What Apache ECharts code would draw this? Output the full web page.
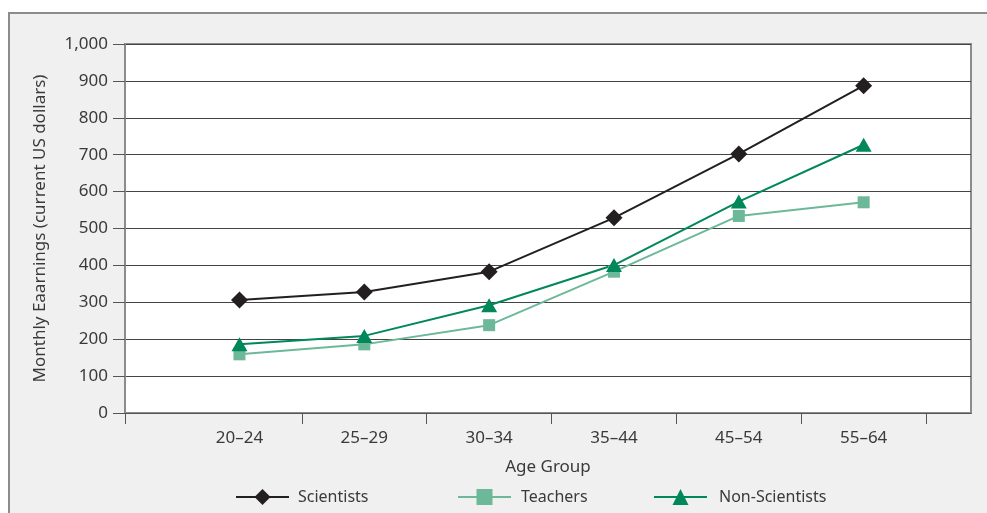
<!DOCTYPE html>
<html>
<head>
<meta charset="utf-8">
<script src="https://cdn.jsdelivr.net/npm/echarts@6/dist/echarts.min.js"></script>
<style>
  html, body { margin: 0; padding: 0; background: #ffffff; }
  #frame { position: absolute; left: 8px; top: 12px; width: 990px; height: 520px; background: #f0f0f0; border: 2px solid #8c8c8c; box-sizing: border-box; }
  #chart { position: absolute; left: 0; top: 0; width: 987px; height: 513px; }
</style>
</head>
<body>
<div id="frame"></div>
<div id="chart"></div>
<script>
const categories = ['20–24', '25–29', '30–34', '35–44', '45–54', '55–64'];
const scientists = [306, 328, 383, 529, 702, 887];
const teachers = [159, 186, 238, 383, 534, 571];
const nonScientists = [186, 209, 292, 401, 573, 727];
const yTicks = [0, 100, 200, 300, 400, 500, 600, 700, 800, 900, 1000];

const FONT = 'Noto Sans';
const TEXT = '#3a3a3a';
const xMin = -0.917, xMax = 5.86;

const toPairs = vals => categories.map((c, i) => [i, vals[i]]);
const boundaries = [xMin].concat(categories.map((c, i) => i + 0.5));

const legendBase = { top: 489, padding: 0, itemWidth: 53, itemHeight: 20 };

const chart = echarts.init(document.getElementById('chart'), null, { renderer: 'canvas' });
chart.setOption({
  backgroundColor: 'transparent',
  animation: false,
  textStyle: { fontFamily: FONT },
  grid: {
    left: 125, right: 16, top: 44, bottom: 100,
    show: true, backgroundColor: '#ffffff', borderColor: '#8c8c8c', borderWidth: 2
  },
  xAxis: {
    type: 'value', min: xMin, max: xMax,
    name: 'Age Group', nameLocation: 'middle', nameGap: 46,
    nameTextStyle: { fontFamily: FONT, fontSize: 17, color: TEXT },
    axisLine: { show: true, onZero: false, lineStyle: { color: '#555', width: 1 } },
    axisTick: { show: true, length: 11, customValues: boundaries, lineStyle: { color: '#555' } },
    axisLabel: {
      customValues: categories.map((c, i) => i),
      formatter: v => categories[Math.round(v)],
      fontFamily: FONT, fontSize: 17, color: TEXT, margin: 17
    },
    splitLine: { show: false }
  },
  yAxis: {
    type: 'value', min: 0, max: 1000, interval: 100,
    name: 'Monthly Eaarnings (current US dollars)', nameLocation: 'middle', nameGap: 76,
    nameTextStyle: { fontFamily: FONT, fontSize: 17, color: TEXT },
    axisLine: { show: true, onZero: false, lineStyle: { color: '#8c8c8c', width: 2 } },
    axisTick: { show: true, length: 12, lineStyle: { color: '#555' } },
    axisLabel: {
      formatter: v => (yTicks.indexOf(v) >= 0 ? v.toLocaleString('en-US') : ''),
      fontFamily: FONT, fontSize: 17, color: TEXT, margin: 17
    },
    splitLine: { show: true, lineStyle: { color: '#444', width: 1 } }
  },
  legend: [
    Object.assign({ data: ['Scientists'], left: 235, textStyle: { fontFamily: FONT, fontSize: 16, color: TEXT, padding: [0, 0, 0, 4] } }, legendBase),
    Object.assign({ data: ['Teachers'], left: 457, textStyle: { fontFamily: FONT, fontSize: 16, color: TEXT, padding: [0, 0, 0, 5] } }, legendBase),
    Object.assign({ data: ['Non-Scientists'], left: 653, textStyle: { fontFamily: FONT, fontSize: 16, color: TEXT, padding: [0, 0, 0, 7] } }, legendBase)
  ],
  series: [
    {
      name: 'Scientists', type: 'line', data: toPairs(scientists),
      symbol: 'diamond', symbolSize: 17,
      lineStyle: { color: '#231f20', width: 2 },
      itemStyle: { color: '#231f20' }
    },
    {
      name: 'Teachers', type: 'line', data: toPairs(teachers),
      symbol: 'rect', symbolSize: 12,
      lineStyle: { color: '#6cb898', width: 2 },
      itemStyle: { color: '#6cb898' }
    },
    {
      name: 'Non-Scientists', type: 'line', data: toPairs(nonScientists),
      symbol: 'triangle', symbolSize: [16, 14],
      lineStyle: { color: '#00875a', width: 2 },
      itemStyle: { color: '#00875a' }
    }
  ]
});
</script>
</body>
</html>
